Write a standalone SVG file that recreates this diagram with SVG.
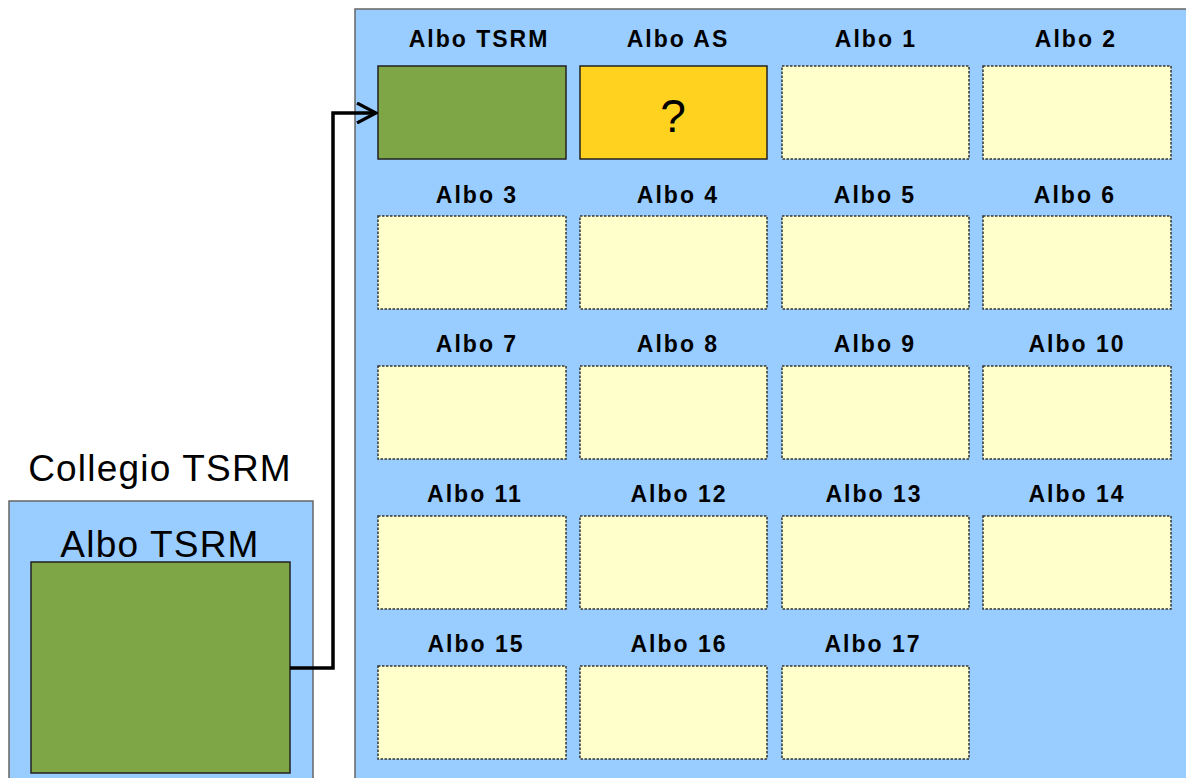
<svg xmlns="http://www.w3.org/2000/svg" width="1186" height="778" viewBox="0 0 1186 778">
<style>
.panel{fill:#99ccff;stroke:#666;stroke-width:1.5}
.slot{fill:#ffffcc;stroke:#333;stroke-width:1.5;stroke-dasharray:2.5 1.5}
.green{fill:#7ea646;stroke:#222;stroke-width:1.5}
.yellow{fill:#ffd21f;stroke:#222;stroke-width:1.5}
.lbl{font-family:"Liberation Sans",Arial,sans-serif;font-weight:bold;font-size:23px;letter-spacing:2px;fill:#000;text-anchor:middle}
.big{font-family:"Liberation Sans",Arial,sans-serif;font-size:37px;letter-spacing:1.2px;fill:#000;text-anchor:middle}
.conn{fill:none;stroke:#000;stroke-width:3.5}
</style>
<defs>
<marker id="arr" viewBox="0 0 22 22" refX="20" refY="11" markerWidth="22" markerHeight="22" orient="auto" markerUnits="userSpaceOnUse">
<path d="M1,1 L20,11 L1,21" fill="none" stroke="#000" stroke-width="3.2"/>
</marker>
</defs>
<rect width="1186" height="778" fill="#fff"/>
<g id="panel-left">
<text class="big" x="160" y="481">Collegio TSRM</text>
<rect class="panel" x="9" y="501" width="304" height="290"/>
<text class="big" x="160" y="557">Albo TSRM</text>
<rect class="green" x="31" y="562" width="259" height="211"/>
</g>
<g id="panel-right">
<rect class="panel" x="355" y="9" width="840" height="790"/>
</g>
<g id="node-tsrm"><text class="lbl" x="479" y="47">Albo TSRM</text><rect class="green" x="378" y="66" width="188" height="93"/></g>
<g id="node-as"><text class="lbl" x="678" y="47">Albo AS</text><rect class="yellow" x="580" y="66" width="187" height="93"/><text x="673" y="132" font-family="Liberation Sans,Arial,sans-serif" font-size="46" text-anchor="middle">?</text></g>
<g id="node-1"><text class="lbl" x="876" y="47">Albo 1</text><rect class="slot" x="782" y="66" width="187" height="93"/></g>
<g id="node-2"><text class="lbl" x="1076" y="47">Albo 2</text><rect class="slot" x="983" y="66" width="188" height="93"/></g>
<g id="node-3"><text class="lbl" x="477" y="203">Albo 3</text><rect class="slot" x="378" y="216" width="188" height="93"/></g>
<g id="node-4"><text class="lbl" x="678" y="203">Albo 4</text><rect class="slot" x="580" y="216" width="187" height="93"/></g>
<g id="node-5"><text class="lbl" x="875" y="203">Albo 5</text><rect class="slot" x="782" y="216" width="187" height="93"/></g>
<g id="node-6"><text class="lbl" x="1075" y="203">Albo 6</text><rect class="slot" x="983" y="216" width="188" height="93"/></g>
<g id="node-7"><text class="lbl" x="477" y="352">Albo 7</text><rect class="slot" x="378" y="366" width="188" height="93"/></g>
<g id="node-8"><text class="lbl" x="678" y="352">Albo 8</text><rect class="slot" x="580" y="366" width="187" height="93"/></g>
<g id="node-9"><text class="lbl" x="875" y="352">Albo 9</text><rect class="slot" x="782" y="366" width="187" height="93"/></g>
<g id="node-10"><text class="lbl" x="1077" y="352">Albo 10</text><rect class="slot" x="983" y="366" width="188" height="93"/></g>
<g id="node-11"><text class="lbl" x="475" y="502">Albo 11</text><rect class="slot" x="378" y="516" width="188" height="93"/></g>
<g id="node-12"><text class="lbl" x="679" y="502">Albo 12</text><rect class="slot" x="580" y="516" width="187" height="93"/></g>
<g id="node-13"><text class="lbl" x="874" y="502">Albo 13</text><rect class="slot" x="782" y="516" width="187" height="93"/></g>
<g id="node-14"><text class="lbl" x="1077" y="502">Albo 14</text><rect class="slot" x="983" y="516" width="188" height="93"/></g>
<g id="node-15"><text class="lbl" x="476" y="652">Albo 15</text><rect class="slot" x="378" y="666" width="188" height="93"/></g>
<g id="node-16"><text class="lbl" x="679" y="652">Albo 16</text><rect class="slot" x="580" y="666" width="187" height="93"/></g>
<g id="node-17"><text class="lbl" x="873" y="652">Albo 17</text><rect class="slot" x="782" y="666" width="187" height="93"/></g>
<g id="connectors">
<path class="conn" d="M290,668 H333 V113 H376" marker-end="url(#arr)"/>
</g>
</svg>
